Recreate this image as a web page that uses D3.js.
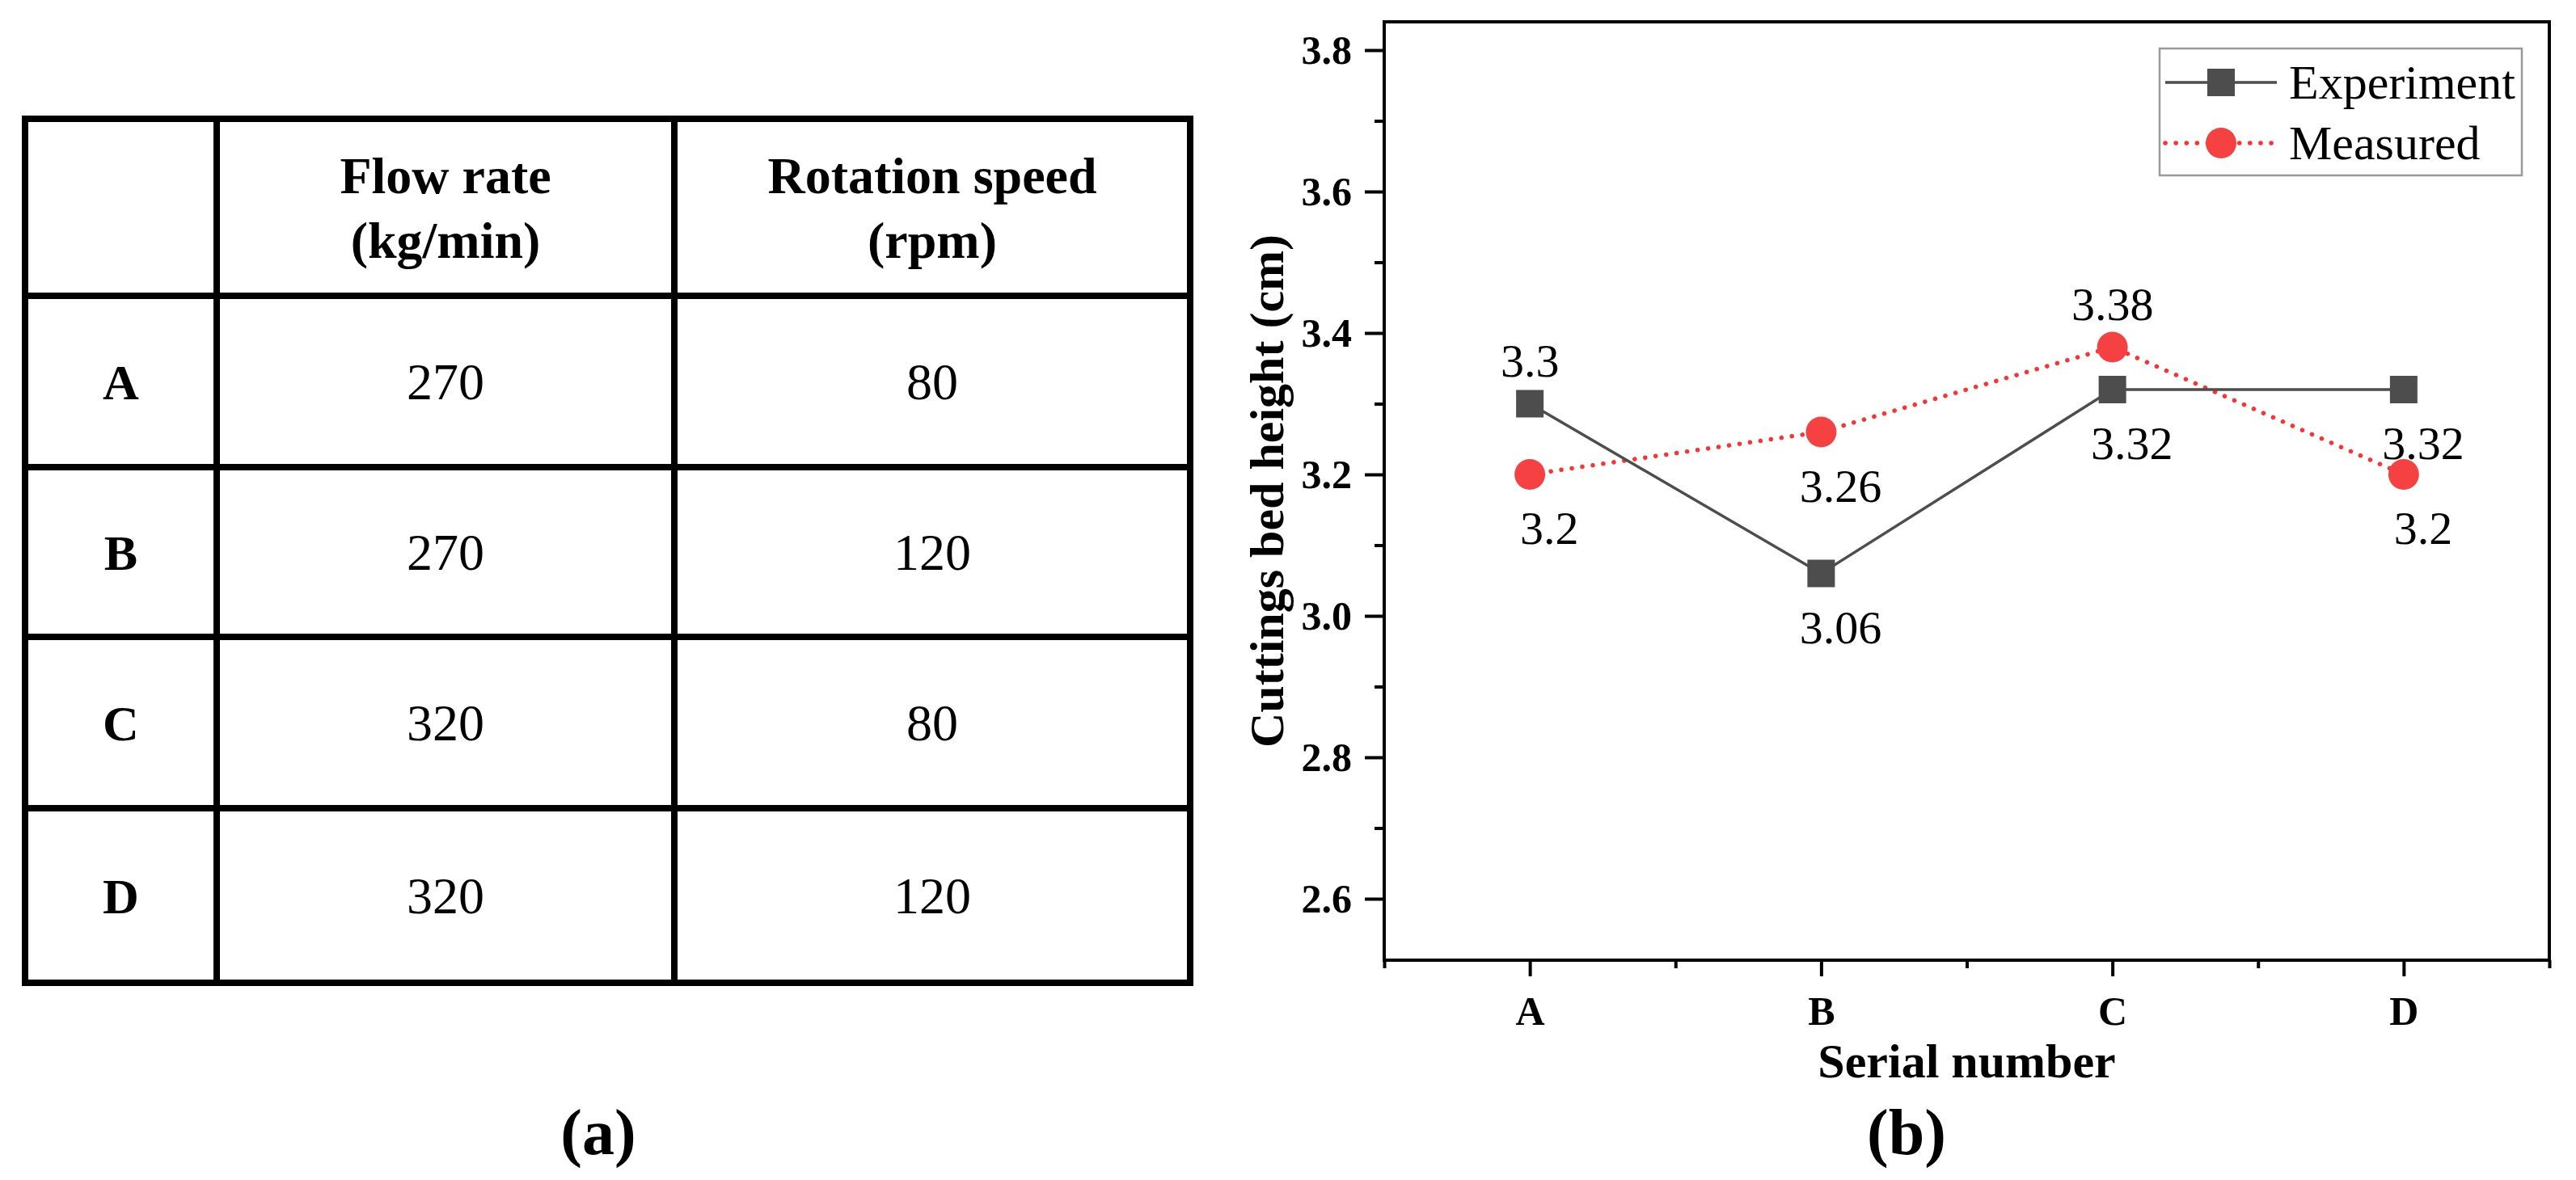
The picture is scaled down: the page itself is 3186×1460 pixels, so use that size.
<!DOCTYPE html>
<html>
<head>
<meta charset="utf-8">
<script src="https://cdn.jsdelivr.net/npm/d3@7/dist/d3.min.js"></script>
<style>
  body { margin: 0; background: #fff; }
</style>
</head>
<body>
<div id="chart"></div>
<script>
// table (a)
const rowNames = ['A', 'B', 'C', 'D'];
const flowRate = [270, 270, 320, 320];
const rotationSpeed = [80, 120, 80, 120];
const tableHeaders = [['Flow rate', '(kg/min)'], ['Rotation speed', '(rpm)']];

// chart (b)
const categories = ['A', 'B', 'C', 'D'];
const experiment = [3.3, 3.06, 3.32, 3.32];
const measured = [3.2, 3.26, 3.38, 3.2];
const yTicks = [2.6, 2.8, 3.0, 3.2, 3.4, 3.6, 3.8];
const yMinorTicks = [2.7, 2.9, 3.1, 3.3, 3.5, 3.7];
const xMinorTicks = [0.5, 1.5, 2.5, 3.5, 4.5];
// where the value label sits for each point
const experimentLabelSide = ['above', 'below', 'below', 'below'];
const measuredLabelSide = ['below', 'below', 'above', 'below'];

const FONT = "'Liberation Serif', 'Times New Roman', Times, serif";
const W = 3186, H = 1460;
const svg = d3.select('#chart').append('svg')
    .attr('width', W).attr('height', H)
    .attr('viewBox', '0 0 ' + W + ' ' + H);

// ---------- table ----------
const colEdges = [31, 268, 834, 1472];
const rowEdges = [147, 366, 578, 788, 1000, 1216];
const tbl = svg.append('g');

rowEdges.forEach(function (y) {
    tbl.append('line').attr('x1', colEdges[0] - 4).attr('x2', colEdges[3] + 4)
        .attr('y1', y).attr('y2', y)
        .attr('stroke', '#000').attr('stroke-width', 8);
});
colEdges.forEach(function (x) {
    tbl.append('line').attr('x1', x).attr('x2', x)
        .attr('y1', rowEdges[0] - 4).attr('y2', rowEdges[rowEdges.length - 1] + 4)
        .attr('stroke', '#000').attr('stroke-width', 8);
});

function colMid(i) { return (colEdges[i] + colEdges[i + 1]) / 2; }
function rowMid(i) { return (rowEdges[i] + rowEdges[i + 1]) / 2; }

tableHeaders.forEach(function (lines, c) {
    lines.forEach(function (txt, k) {
        tbl.append('text')
            .attr('x', colMid(c + 1))
            .attr('y', rowMid(0) - 18 + k * 80)
            .attr('text-anchor', 'middle')
            .style('font-size', '64px').style('font-weight', 'bold')
            .text(txt);
    });
});

rowNames.forEach(function (name, r) {
    const yb = rowMid(r + 1) + 22;
    tbl.append('text').attr('x', colMid(0)).attr('y', yb)
        .attr('text-anchor', 'middle')
        .style('font-size', '62px').style('font-weight', 'bold')
        .text(name);
    tbl.append('text').attr('x', colMid(1)).attr('y', yb)
        .attr('text-anchor', 'middle').style('font-size', '64px')
        .text(flowRate[r]);
    tbl.append('text').attr('x', colMid(2)).attr('y', yb)
        .attr('text-anchor', 'middle').style('font-size', '64px')
        .text(rotationSpeed[r]);
});

svg.append('text').attr('x', 740).attr('y', 1428)
    .attr('text-anchor', 'middle')
    .style('font-size', '80px').style('font-weight', 'bold')
    .text('(a)');

// ---------- chart ----------
const plot = { left: 1712, right: 3153, top: 27, bottom: 1188 };
const x = d3.scaleLinear().domain([0.5, 4.5]).range([plot.left, plot.right]);
const y = d3.scaleLinear().domain([2.6, 3.8]).range([1112, 62]);
y.domain([y.invert(plot.bottom), y.invert(plot.top)]).range([plot.bottom, plot.top]);

const g = svg.append('g');

// y axis major + minor ticks
const yAxis = g.append('g').attr('transform', 'translate(' + plot.left + ',0)')
    .call(d3.axisLeft(y).tickValues(yTicks).tickSize(24).tickPadding(16)
        .tickFormat(d3.format('.1f')));
const yMinor = g.append('g').attr('transform', 'translate(' + plot.left + ',0)')
    .call(d3.axisLeft(y).tickValues(yMinorTicks).tickSize(12).tickFormat(''));

// x axis major + minor ticks
const xAxis = g.append('g').attr('transform', 'translate(0,' + plot.bottom + ')')
    .call(d3.axisBottom(x).tickValues([1, 2, 3, 4]).tickSize(20).tickPadding(24)
        .tickFormat(function (d) { return categories[d - 1]; }));
const xMinor = g.append('g').attr('transform', 'translate(0,' + plot.bottom + ')')
    .call(d3.axisBottom(x).tickValues(xMinorTicks).tickSize(10).tickFormat(''));

[yAxis, yMinor, xAxis, xMinor].forEach(function (ax) {
    ax.attr('font-family', null).attr('font-size', null);
    ax.select('.domain').remove();
    ax.selectAll('.tick line').attr('stroke', '#000').attr('stroke-width', 4);
    ax.selectAll('.tick text')
        .style('font-size', '50px').style('font-weight', 'bold').attr('fill', '#000');
});

// frame
g.append('rect')
    .attr('x', plot.left).attr('y', plot.top)
    .attr('width', plot.right - plot.left).attr('height', plot.bottom - plot.top)
    .attr('fill', 'none').attr('stroke', '#000').attr('stroke-width', 4);

// axis titles
g.append('text')
    .attr('x', (plot.left + plot.right) / 2).attr('y', 1333)
    .attr('text-anchor', 'middle')
    .style('font-size', '60px').style('font-weight', 'bold')
    .text('Serial number');
g.append('text')
    .attr('transform', 'translate(1587,' + ((plot.top + plot.bottom) / 2) + ') rotate(-90)')
    .attr('text-anchor', 'middle')
    .style('font-size', '60px').style('font-weight', 'bold')
    .text('Cuttings bed height (cm)');

svg.append('text').attr('x', 2358).attr('y', 1428)
    .attr('text-anchor', 'middle')
    .style('font-size', '80px').style('font-weight', 'bold')
    .text('(b)');

// series
const expColor = '#4d4d4d';
const meaColor = '#f54141';
const line = d3.line()
    .x(function (d, i) { return x(i + 1); })
    .y(function (d) { return y(d); });

g.append('path').datum(measured)
    .attr('d', line).attr('fill', 'none')
    .attr('stroke', '#ff3030').attr('stroke-width', 5.5)
    .attr('stroke-linecap', 'round').attr('stroke-dasharray', '0.1 13');

g.append('path').datum(experiment)
    .attr('d', line).attr('fill', 'none')
    .attr('stroke', expColor).attr('stroke-width', 3.5);

g.selectAll('rect.exp').data(experiment).enter().append('rect')
    .attr('class', 'exp')
    .attr('x', function (d, i) { return x(i + 1) - 17; })
    .attr('y', function (d) { return y(d) - 17; })
    .attr('width', 34).attr('height', 34)
    .attr('fill', expColor);

g.selectAll('circle.mea').data(measured).enter().append('circle')
    .attr('class', 'mea')
    .attr('cx', function (d, i) { return x(i + 1); })
    .attr('cy', function (d) { return y(d); })
    .attr('r', 19)
    .attr('fill', meaColor);

// value labels
function addLabels(values, sides) {
    g.selectAll(null).data(values).enter().append('text')
        .attr('x', function (d, i) { return x(i + 1) + (sides[i] === 'above' ? 0 : 24); })
        .attr('y', function (d, i) { return y(d) + (sides[i] === 'above' ? -34 : 86); })
        .attr('text-anchor', 'middle')
        .style('font-size', '58px')
        .text(function (d) { return d; });
}
addLabels(experiment, experimentLabelSide);
addLabels(measured, measuredLabelSide);

// legend
const lg = g.append('g');
lg.append('rect')
    .attr('x', 2671).attr('y', 60).attr('width', 448).attr('height', 157)
    .attr('fill', '#fff').attr('stroke', '#999').attr('stroke-width', 2.5);
const legendRows = [
    { name: 'Experiment', y: 102 },
    { name: 'Measured', y: 177 }
];
lg.append('line').attr('x1', 2678).attr('x2', 2816)
    .attr('y1', legendRows[0].y).attr('y2', legendRows[0].y)
    .attr('stroke', expColor).attr('stroke-width', 3.5);
lg.append('rect').attr('x', 2747 - 17).attr('y', legendRows[0].y - 17)
    .attr('width', 34).attr('height', 34).attr('fill', expColor);
lg.append('line').attr('x1', 2678).attr('x2', 2816)
    .attr('y1', legendRows[1].y).attr('y2', legendRows[1].y)
    .attr('stroke', '#ff3030').attr('stroke-width', 5.5)
    .attr('stroke-linecap', 'round').attr('stroke-dasharray', '0.1 13');
lg.append('circle').attr('cx', 2747).attr('cy', legendRows[1].y).attr('r', 19)
    .attr('fill', meaColor);
legendRows.forEach(function (r) {
    lg.append('text').attr('x', 2831).attr('y', r.y + 20)
        .style('font-size', '60px')
        .text(r.name);
});

// every text in a Times-like face
svg.selectAll('text').style('font-family', FONT).attr('fill', '#000');
</script>
</body>
</html>
